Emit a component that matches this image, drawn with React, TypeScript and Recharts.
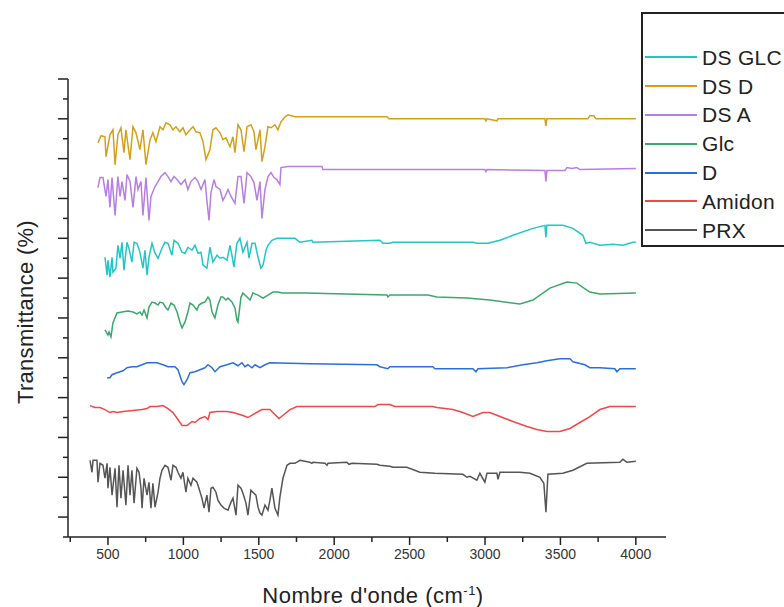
import { LineChart, Line, XAxis, YAxis } from "recharts";

// wavenumber (cm-1), transmittance (offset, a.u.)
const dsD: [number, number][] = [
  [434, 396], [454, 403], [480, 402], [487, 382], [513, 404], [533, 409], [547, 374], [566, 404],
  [586, 411], [606, 386], [619, 409], [646, 379], [666, 412], [686, 406], [712, 389], [732, 409],
  [752, 374], [779, 399], [798, 406], [818, 397], [845, 412], [865, 409], [885, 416], [911, 414],
  [931, 409], [951, 412], [977, 407], [997, 411], [1017, 404], [1044, 409], [1064, 412], [1084, 407],
  [1110, 406], [1130, 397], [1150, 379], [1176, 389], [1196, 409], [1216, 411], [1243, 406], [1262, 399],
  [1282, 401], [1309, 392], [1329, 402], [1342, 386], [1362, 414], [1382, 409], [1402, 387], [1422, 412],
  [1448, 414], [1468, 407], [1481, 389], [1508, 409], [1521, 377], [1541, 392], [1561, 412], [1581, 411],
  [1607, 414], [1627, 409], [1647, 417], [1674, 422], [1693, 424], [1740, 422], [2350, 422], [2363, 420],
  [2999, 420], [3006, 418], [3013, 420], [3079, 418], [3086, 420], [3397, 420], [3404, 413], [3410, 420],
  [3682, 420], [3695, 423], [3722, 423], [3735, 420], [4000, 420],
];

const dsA: [number, number][] = [
  [434, 351], [447, 361], [467, 361], [487, 342], [500, 359], [513, 331], [527, 361], [547, 323],
  [566, 362], [580, 342], [593, 357], [613, 338], [626, 364], [646, 357], [666, 331], [686, 362],
  [699, 349], [719, 357], [732, 323], [752, 361], [772, 318], [785, 342], [812, 352], [832, 357],
  [851, 362], [878, 366], [898, 362], [918, 357], [938, 362], [958, 359], [984, 354], [1011, 359],
  [1030, 349], [1050, 357], [1077, 361], [1097, 357], [1117, 349], [1143, 359], [1156, 338], [1170, 318],
  [1183, 346], [1203, 359], [1216, 352], [1243, 349], [1262, 338], [1276, 342], [1296, 349], [1316, 342],
  [1342, 335], [1362, 362], [1382, 362], [1402, 335], [1422, 366], [1448, 362], [1468, 356], [1488, 338],
  [1508, 357], [1521, 320], [1541, 349], [1561, 362], [1581, 366], [1601, 361], [1620, 359], [1640, 354],
  [1647, 371], [1693, 372], [1919, 372], [1925, 369], [2999, 369], [3006, 367], [3013, 369], [3397, 368],
  [3404, 357], [3410, 368], [3530, 368], [3543, 371], [3576, 370], [3609, 371], [3629, 369], [4000, 370],
];

const dsGlc: [number, number][] = [
  [480, 281], [494, 263], [500, 278], [513, 261], [527, 281], [533, 266], [553, 270], [566, 293],
  [580, 280], [593, 296], [606, 268], [626, 296], [639, 290], [659, 276], [673, 296], [692, 295],
  [712, 286], [732, 270], [745, 288], [759, 263], [772, 281], [792, 295], [812, 285], [832, 280],
  [858, 290], [878, 296], [898, 295], [924, 283], [938, 298], [964, 295], [991, 286], [1011, 285],
  [1030, 291], [1057, 288], [1077, 293], [1097, 285], [1117, 286], [1130, 273], [1156, 270], [1176, 291],
  [1196, 276], [1223, 283], [1243, 280], [1262, 281], [1289, 278], [1309, 293], [1322, 283], [1335, 271],
  [1355, 295], [1375, 300], [1395, 286], [1422, 296], [1435, 280], [1455, 295], [1475, 295], [1495, 281],
  [1514, 270], [1528, 273], [1548, 288], [1561, 293], [1587, 298], [1620, 300], [1740, 300], [1773, 296],
  [1852, 298], [1859, 296], [2303, 298], [2323, 295], [2369, 295], [2389, 296], [2920, 296], [2946, 295],
  [3019, 295], [3099, 298], [3185, 303], [3318, 310], [3397, 313], [3404, 301], [3410, 313], [3516, 313],
  [3583, 310], [3649, 303], [3669, 295], [3695, 296], [3762, 293], [3848, 294], [3914, 293], [3981, 296],
  [4000, 296],
];

const glc: [number, number][] = [
  [480, 208], [500, 203], [507, 206], [520, 201], [533, 215], [560, 225], [593, 226], [633, 227],
  [666, 226], [692, 224], [712, 226], [726, 223], [739, 228], [759, 220], [772, 231], [792, 236],
  [812, 235], [832, 233], [845, 236], [865, 235], [885, 230], [898, 228], [918, 235], [938, 233],
  [958, 226], [977, 216], [991, 210], [1011, 216], [1030, 226], [1044, 235], [1064, 233], [1090, 228],
  [1103, 233], [1123, 235], [1143, 236], [1163, 241], [1176, 238], [1190, 226], [1209, 220], [1229, 233],
  [1249, 241], [1262, 241], [1282, 238], [1296, 240], [1322, 236], [1342, 230], [1355, 218], [1362, 216],
  [1382, 241], [1395, 245], [1422, 241], [1442, 238], [1461, 245], [1495, 243], [1528, 240], [1561, 243],
  [1594, 246], [1627, 246], [1654, 245], [1806, 245], [2350, 243], [2356, 241], [2369, 243], [2621, 243],
  [2681, 241], [2880, 240], [3032, 238], [3231, 234], [3318, 238], [3430, 250], [3543, 256], [3609, 255],
  [3675, 248], [3695, 246], [3762, 244], [4000, 245],
];

const d: [number, number][] = [
  [494, 160], [513, 160], [527, 163], [560, 165], [580, 166], [600, 167], [626, 170], [659, 171],
  [692, 171], [726, 173], [759, 175], [825, 175], [865, 173], [898, 171], [944, 171], [964, 168],
  [991, 156], [1004, 153], [1024, 158], [1044, 165], [1077, 166], [1110, 168], [1143, 170], [1163, 173],
  [1190, 170], [1209, 166], [1243, 171], [1289, 173], [1329, 175], [1362, 172], [1388, 175], [1408, 171],
  [1428, 173], [1455, 170], [1475, 173], [1508, 170], [1541, 173], [1574, 175], [1839, 174], [2283, 173],
  [2303, 171], [2356, 169], [2369, 171], [2654, 171], [2668, 169], [2920, 169], [2940, 166], [2953, 169],
  [3145, 170], [3251, 173], [3344, 175], [3410, 177], [3496, 179], [3563, 179], [3583, 176], [3662, 173],
  [3695, 170], [3762, 170], [3861, 169], [3874, 166], [3894, 169], [4000, 169],
];

const amidon: [number, number][] = [
  [381, 132], [414, 130], [447, 130], [480, 128], [513, 125], [533, 126], [560, 125], [600, 126],
  [666, 127], [726, 128], [759, 129], [779, 131], [825, 131], [865, 132], [898, 129], [931, 125],
  [964, 118], [991, 112], [1024, 112], [1057, 116], [1077, 115], [1110, 119], [1143, 121], [1163, 118],
  [1176, 125], [1223, 126], [1289, 126], [1329, 125], [1395, 122], [1428, 120], [1461, 123], [1521, 128],
  [1574, 128], [1607, 123], [1634, 119], [1667, 123], [1707, 128], [1753, 131], [2270, 131], [2290, 133],
  [2369, 133], [2403, 131], [2654, 131], [2681, 130], [2787, 128], [2853, 125], [2920, 121], [2953, 123],
  [2986, 125], [3032, 125], [3099, 121], [3185, 116], [3278, 111], [3344, 108], [3410, 106], [3496, 106],
  [3563, 109], [3629, 115], [3695, 121], [3762, 128], [3828, 131], [4000, 131],
];

const prx: [number, number][] = [
  [381, 77], [394, 65], [401, 77], [427, 77], [434, 55], [447, 74], [467, 72], [480, 59],
  [494, 74], [500, 49], [513, 70], [527, 42], [547, 69], [560, 30], [573, 72], [586, 39],
  [600, 67], [619, 32], [633, 72], [646, 42], [659, 67], [673, 34], [692, 69], [706, 65],
  [719, 49], [726, 29], [739, 59], [759, 42], [772, 55], [785, 29], [798, 54], [812, 30],
  [832, 45], [845, 59], [858, 67], [878, 72], [898, 70], [918, 57], [931, 72], [951, 70],
  [964, 65], [984, 59], [997, 65], [1017, 45], [1030, 59], [1050, 52], [1064, 59], [1090, 55],
  [1103, 49], [1123, 39], [1137, 29], [1156, 42], [1170, 25], [1183, 49], [1196, 50], [1216, 45],
  [1229, 37], [1249, 32], [1269, 29], [1296, 27], [1316, 35], [1329, 39], [1349, 22], [1362, 52],
  [1382, 49], [1395, 44], [1415, 34], [1428, 22], [1448, 47], [1461, 45], [1481, 42], [1495, 30],
  [1508, 24], [1521, 22], [1541, 32], [1561, 27], [1574, 37], [1587, 49], [1607, 29], [1627, 22],
  [1640, 40], [1660, 59], [1687, 72], [1707, 74], [1740, 74], [1773, 77], [1839, 75], [1852, 74],
  [1859, 75], [1939, 74], [1952, 72], [1959, 74], [2084, 75], [2098, 73], [2118, 74], [2283, 73],
  [2303, 72], [2369, 71], [2389, 70], [2482, 70], [2568, 65], [2668, 64], [2853, 63], [2880, 60],
  [2900, 61], [2946, 57], [2966, 64], [2999, 55], [3013, 64], [3079, 64], [3086, 58], [3099, 65],
  [3231, 65], [3298, 64], [3364, 60], [3390, 54], [3404, 25], [3417, 63], [3516, 64], [3583, 67],
  [3675, 74], [3894, 75], [3914, 78], [3941, 75], [4000, 76],
];

const seriesNames = ["DS GLC", "DS D", "DS A", "Glc", "D", "Amidon", "PRX"];
const seriesColors = ["#22c6c8", "#d4a01a", "#b67fe0", "#3aa86c", "#2b6fdd", "#f04848", "#555555"];
const seriesPoints = [dsGlc, dsD, dsA, glc, d, amidon, prx];

const xTicks = [250, 500, 750, 1000, 1250, 1500, 1750, 2000, 2250, 2500, 2750, 3000, 3250, 3500, 3750, 4000];
const yTicks = [0, 20, 40, 60, 80, 100, 120, 140, 160, 180, 200, 220, 240, 260, 280, 300, 320, 340, 360, 380, 400, 420, 440, 460];

const font = "'Liberation Sans', Arial, sans-serif";
const axisColor = "#222";

function XTick(props: any) {
  const { x, y, payload } = props;
  const major = payload.value % 500 === 0;
  return (
    <g>
      <line x1={x} x2={x} y1={y} y2={y + (major ? 8 : 5)} stroke={axisColor} strokeWidth={1.5} />
      {major && (
        <text x={x} y={y + 22} textAnchor="middle" fontSize={14} fontFamily={font} fill="#333">
          {payload.value}
        </text>
      )}
    </g>
  );
}

function YTick(props: any) {
  const { x, y, payload } = props;
  const len = (payload.value / 20) % 2 === 1 ? 10 : 5;
  return <line x1={x - len} x2={x} y1={y} y2={y} stroke={axisColor} strokeWidth={1.5} />;
}

export default function App() {
  return (
    <div
      style={{
        position: "absolute",
        left: 0,
        top: 0,
        width: 784,
        height: 607,
        overflow: "hidden",
        background: "#fff",
        fontFamily: font,
        color: "#222",
      }}
    >
      <LineChart width={784} height={607} margin={{ top: 79, right: 118, bottom: 30, left: 48 }}>
        <XAxis
          dataKey="x"
          type="number"
          domain={[235, 4200]}
          ticks={xTicks}
          interval={0}
          tick={<XTick />}
          tickLine={false}
          tickSize={0}
          tickMargin={0}
          height={40}
          allowDataOverflow
          axisLine={{ stroke: axisColor, strokeWidth: 1.5 }}
        />
        <YAxis
          type="number"
          domain={[0, 460]}
          ticks={yTicks}
          interval={0}
          tick={<YTick />}
          tickLine={false}
          tickSize={0}
          tickMargin={0}
          width={20}
          allowDataOverflow
          axisLine={{ stroke: axisColor, strokeWidth: 1.5 }}
        />
        {seriesPoints.map((pts, i) => (
          <Line
            key={seriesNames[i]}
            name={seriesNames[i]}
            data={pts.map(([x, y]) => ({ x, y }))}
            dataKey="y"
            type="linear"
            stroke={seriesColors[i]}
            strokeWidth={1.5}
            dot={false}
            isAnimationActive={false}
          />
        ))}
      </LineChart>

      <div
        style={{
          position: "absolute",
          left: 26,
          top: 312,
          transform: "translate(-50%, -50%) rotate(-90deg)",
          whiteSpace: "nowrap",
          fontSize: 22,
          lineHeight: "22px",
          letterSpacing: 0.3,
        }}
      >
        Transmittance (%)
      </div>

      <div
        style={{
          position: "absolute",
          left: 373,
          top: 596,
          transform: "translate(-50%, -50%)",
          whiteSpace: "nowrap",
          fontSize: 22,
          lineHeight: "22px",
          letterSpacing: 0.5,
        }}
      >
        Nombre d'onde (cm<sup style={{ fontSize: 13, lineHeight: 0 }}>-1</sup>)
      </div>

      <div
        style={{
          position: "absolute",
          left: 641,
          top: 12,
          width: 220,
          height: 202,
          border: "2px solid #222",
          background: "#fff",
          paddingTop: 29,
          boxSizing: "content-box",
        }}
      >
        {seriesNames.map((name, i) => (
          <div key={name} style={{ display: "flex", alignItems: "center", height: 28.8 }}>
            <svg width={52} height={4} style={{ marginLeft: 2, marginRight: 5 }}>
              <line x1={0} x2={52} y1={2} y2={2} stroke={seriesColors[i]} strokeWidth={2} />
            </svg>
            <span style={{ fontSize: 21, lineHeight: "21px", whiteSpace: "nowrap", letterSpacing: 0.3 }}>
              {name}
            </span>
          </div>
        ))}
      </div>
    </div>
  );
}
